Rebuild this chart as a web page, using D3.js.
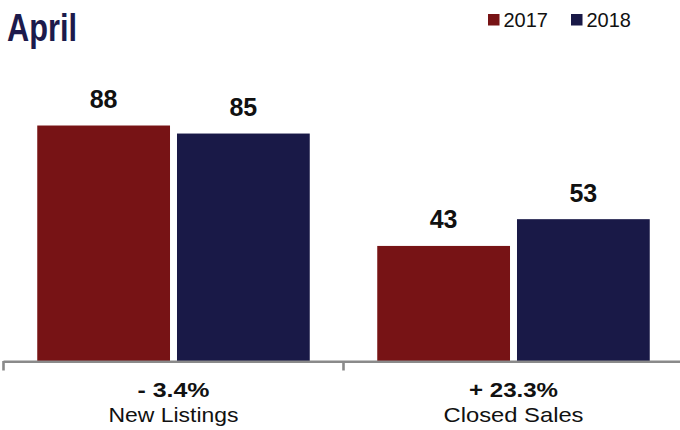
<!DOCTYPE html>
<html>
<head>
<meta charset="utf-8">
<script src="https://cdn.jsdelivr.net/npm/d3@7/dist/d3.min.js"></script>
<style>
  html, body { margin: 0; padding: 0; background: #fff; }
  svg { display: block; }
  text { font-family: "Liberation Sans", Arial, Helvetica, sans-serif; }
</style>
</head>
<body>
<svg id="chart" width="680" height="430"></svg>
<script>
const categories = ["New Listings", "Closed Sales"];
const changes = ["- 3.4%", "+ 23.3%"];
const seriesNames = ["2017", "2018"];
const values2017 = [88, 43];
const values2018 = [85, 53];
const seriesColors = ["#771315", "#191947"];
const title = "April";

const svg = d3.select("#chart");
const W = 680, H = 430;
const baseY = 361;

const x0 = d3.scaleBand().domain(categories).range([3.5, 683.5]).paddingInner(0).paddingOuter(0);
const groupW = 272.5;
const x1 = d3.scaleBand().domain(seriesNames).range([0, groupW]).paddingInner(0.05).paddingOuter(0);
const y = d3.scaleLinear().domain([0, 100]).range([baseY, baseY - 267.6]);

const data = categories.map((c, i) => ({
  cat: c,
  change: changes[i],
  vals: [{s: seriesNames[0], v: values2017[i]}, {s: seriesNames[1], v: values2018[i]}]
}));

const colorOf = d3.scaleOrdinal().domain(seriesNames).range(seriesColors);

// Title
svg.append("text")
  .attr("x", 7).attr("y", 41)
  .attr("font-size", 38).attr("font-weight", "bold")
  .attr("fill", "#1c1a4c")
  .attr("textLength", 70).attr("lengthAdjust", "spacingAndGlyphs")
  .text(title);

// Legend
const legendX = [488, 571];
seriesNames.forEach((s, i) => {
  svg.append("rect").attr("x", legendX[i]).attr("y", 14).attr("width", 11.5).attr("height", 11.5).attr("fill", colorOf(s));
  svg.append("text").attr("x", legendX[i] + 15.5).attr("y", 27).attr("font-size", 20).attr("fill", "#111").text(s);
});

// Bars
const groups = svg.selectAll("g.grp").data(data).enter().append("g")
  .attr("class", "grp")
  .attr("transform", d => `translate(${x0(d.cat) + (x0.bandwidth() - groupW) / 2},0)`);

groups.selectAll("rect").data(d => d.vals).enter().append("rect")
  .attr("x", d => x1(d.s))
  .attr("y", d => y(d.v))
  .attr("width", x1.bandwidth())
  .attr("height", d => y(0) - y(d.v))
  .attr("fill", d => colorOf(d.s));

groups.selectAll("text.val").data(d => d.vals).enter().append("text")
  .attr("class", "val")
  .attr("x", d => x1(d.s) + x1.bandwidth() / 2)
  .attr("y", d => y(d.v) - 17.5)
  .attr("text-anchor", "middle")
  .attr("font-size", 25).attr("font-weight", "bold").attr("fill", "#111")
  .text(d => d.v);

// Axis
const axisG = svg.append("g");
axisG.append("line")
  .attr("x1", x0.range()[0]).attr("x2", W)
  .attr("y1", baseY + 0.8).attr("y2", baseY + 0.8)
  .attr("stroke", "#8a8a8a").attr("stroke-width", 2.6);
const tickXs = categories.map(c => x0(c)).concat([x0.range()[1]]);
axisG.selectAll("line.tick").data(tickXs).enter().append("line")
  .attr("class", "tick")
  .attr("x1", d => d).attr("x2", d => d)
  .attr("y1", baseY).attr("y2", baseY + 9.5)
  .attr("stroke", "#8a8a8a").attr("stroke-width", 2.6);

// Category labels (widths matched to the reference's wider typeface)
const changeW = [72, 89];
const catW = [130, 140];
const catG = svg.selectAll("g.cat").data(data).enter().append("g")
  .attr("class", "cat")
  .attr("transform", d => `translate(${x0(d.cat) + x0.bandwidth() / 2},0)`);
catG.append("text")
  .attr("y", 397).attr("text-anchor", "middle")
  .attr("font-size", 21).attr("font-weight", "bold").attr("fill", "#111")
  .attr("textLength", (d, i) => changeW[i]).attr("lengthAdjust", "spacingAndGlyphs")
  .text(d => d.change);
catG.append("text")
  .attr("y", 422).attr("text-anchor", "middle")
  .attr("font-size", 21).attr("fill", "#111")
  .attr("textLength", (d, i) => catW[i]).attr("lengthAdjust", "spacingAndGlyphs")
  .text(d => d.cat);
</script>
</body>
</html>
